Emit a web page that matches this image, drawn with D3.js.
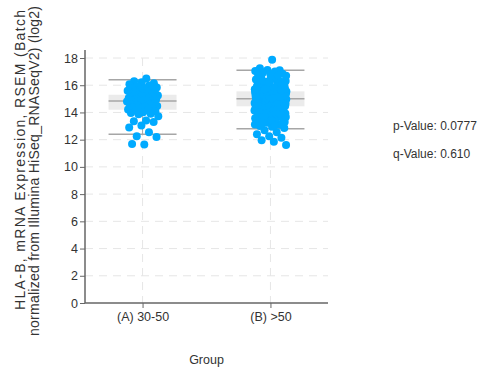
<!DOCTYPE html>
<html>
<head>
<meta charset="utf-8">
<script src="https://cdn.jsdelivr.net/npm/d3@7"></script>
<style>
  html, body { margin: 0; padding: 0; background: #fff; }
  svg { display: block; font-family: "Liberation Sans", Arial, sans-serif; }
</style>
</head>
<body>
<svg id="chart" width="502" height="371"></svg>
<script>
// Groups on the x axis
const groups = ["(A) 30-50", "(B) >50"];

// HLA-B expression (log2) per sample, group A
const valuesA = [
  16.5, 16.3, 16.15, 16.22, 16.08, 15.98, 15.9, 15.84, 15.8, 15.74, 15.7, 15.66,
  15.6, 15.55, 15.51, 15.46, 15.4, 15.36, 15.32, 15.28, 15.25, 15.21, 15.18, 15.14,
  15.1, 15.06, 15.02, 14.99, 14.95, 14.91, 14.88, 14.86, 14.83, 14.8, 14.76, 14.72,
  14.69, 14.65, 14.61, 14.57, 14.52, 14.47, 14.42, 14.37, 14.31, 14.27, 14.22, 14.19,
  14.14, 14.09, 14.02, 13.96, 13.9, 13.86, 13.72, 13.4, 13.35, 13.3, 13.05, 12.9,
  12.55, 12.25, 12.2, 11.65, 11.68
];

// HLA-B expression (log2) per sample, group B
const valuesB = [
  11.6, 11.85, 11.95, 12.15, 12.25, 12.4, 12.55, 12.7, 12.85, 12.95, 13.0, 13.1,
  13.24, 13.58, 14.12, 13.87, 14.39, 13.41, 14.03, 13.69, 14.27, 13.93, 14.18, 13.33,
  14.44, 13.76, 14.08, 13.51, 14.31, 13.98, 14.21, 13.64, 14.36, 13.82, 14.15, 13.47,
  14.41, 14.05, 13.72, 14.26, 13.91, 14.33, 13.29, 14.1, 13.85, 14.23, 13.62, 14.38,
  13.96, 14.17, 13.55, 14.29, 13.79, 14.42, 14.01, 13.67, 14.35, 13.89, 14.13, 13.44,
  14.24, 14.07, 13.74, 14.4, 13.37, 14.19, 13.95, 14.3, 13.12, 13.05, 13.18, 14.34,
  14.52, 14.87, 14.63, 14.95, 14.48, 14.71, 14.83, 14.57, 14.99, 14.66, 14.79, 14.46,
  14.91, 14.6, 14.74, 14.85, 14.54, 14.97, 14.68, 14.81, 14.5, 14.89, 14.62, 14.76,
  14.93, 14.56, 14.7, 14.84, 14.47, 14.98, 14.65, 14.78, 14.59, 14.9, 14.72, 14.86,
  14.53, 14.96, 14.64, 14.8, 14.49, 14.92, 14.67, 14.75, 14.88, 14.55, 14.73, 14.94,
  14.61, 14.82, 14.51, 14.69, 14.77, 14.58, 14.95, 14.86, 14.66, 14.74, 14.9, 14.57,
  15.03, 15.41, 15.17, 15.52, 15.08, 15.29, 15.46, 15.12, 15.35, 15.01, 15.49, 15.22,
  15.38, 15.06, 15.27, 15.54, 15.14, 15.43, 15.19, 15.32, 15.04, 15.47, 15.24, 15.39,
  15.1, 15.51, 15.16, 15.3, 15.44, 15.07, 15.36, 15.21, 15.5, 15.13, 15.26, 15.42,
  15.02, 15.34, 15.18, 15.48, 15.09, 15.31, 15.45, 15.23, 15.37, 15.05, 15.53, 15.15,
  15.28, 15.4, 15.11, 15.33, 15.2, 15.46, 15.25, 15.07, 15.38, 15.14, 15.5, 15.29,
  15.58, 16.12, 15.79, 16.45, 15.67, 16.03, 15.91, 16.31, 15.62, 16.58, 15.84, 16.2,
  15.73, 16.39, 15.96, 16.08, 15.6, 16.66, 15.87, 16.25, 15.7, 16.5, 15.99, 16.15,
  15.65, 16.35, 15.81, 16.05, 15.76, 16.62, 15.93, 16.28, 15.57, 16.42, 15.88, 16.1,
  15.68, 16.54, 16.0, 16.22, 15.75, 16.69, 15.83, 16.33, 15.63, 16.18, 15.95, 16.47,
  15.71, 16.02,
  17.87, 17.25, 17.1, 17.12, 17.05, 17.0, 16.92, 16.85, 16.8, 16.76, 16.72
];

// Box summary per group
const whiskerLow  = [12.4, 12.8];
const quartile1   = [14.2, 14.45];
const medians     = [14.85, 15.0];
const quartile3   = [15.3, 15.55];
const whiskerHigh = [16.4, 17.1];

const yTicks = [0, 2, 4, 6, 8, 10, 12, 14, 16, 18];
const yTitleLines = ["HLA-B, mRNA Expression, RSEM (Batch", "normalized from Illumina HiSeq_RNASeqV2) (log2)"];
const xTitle = "Group";
const statLabels = ["p-Value: 0.0777", "q-Value: 0.610"];

const svg = d3.select("#chart");

const x = d3.scalePoint().domain(groups).range([85, 328]).padding(0.45);
const y = d3.scaleLinear().domain([0, 18]).range([303, 58]);

const boxHalf = 34;
const jitterHalf = 16;

// dashed grid
const grid = svg.append("g");
grid.selectAll("line.h").data(yTicks.filter(d => d > 0)).join("line")
  .attr("x1", 85).attr("x2", 328)
  .attr("y1", d => y(d)).attr("y2", d => y(d))
  .attr("stroke", "#e6e6e6").attr("stroke-width", 1).attr("stroke-dasharray", "8,6");
grid.selectAll("line.v").data(groups).join("line")
  .attr("x1", d => x(d)).attr("x2", d => x(d))
  .attr("y1", 58).attr("y2", 303)
  .attr("stroke", "#e6e6e6").attr("stroke-width", 1).attr("stroke-dasharray", "8,6");

// boxes
const boxes = groups.map((g, i) => ({
  g, lo: whiskerLow[i], q1: quartile1[i], med: medians[i], q3: quartile3[i], hi: whiskerHigh[i]
}));
const bx = svg.append("g");
bx.selectAll("rect").data(boxes).join("rect")
  .attr("x", d => x(d.g) - boxHalf).attr("width", boxHalf * 2)
  .attr("y", d => y(d.q3)).attr("height", d => y(d.q1) - y(d.q3))
  .attr("fill", "#ebebeb");
bx.selectAll("line.stem").data(boxes).join("line")
  .attr("x1", d => x(d.g)).attr("x2", d => x(d.g))
  .attr("y1", d => y(d.lo)).attr("y2", d => y(d.hi))
  .attr("stroke", "#aaa").attr("stroke-width", 1);
["lo", "med", "hi"].forEach(k => {
  bx.selectAll("line." + k).data(boxes).join("line")
    .attr("x1", d => x(d.g) - boxHalf).attr("x2", d => x(d.g) + boxHalf)
    .attr("y1", d => y(d[k])).attr("y2", d => y(d[k]))
    .attr("stroke", "#a6a6a6").attr("stroke-width", 1.5);
});

// sample points, spread horizontally with a golden-ratio sequence
const points = [];
[valuesA, valuesB].forEach((vals, gi) => {
  vals.forEach((v, i) => {
    const u = ((i + 1) * 0.6180339887 + gi * 0.37) % 1;
    points.push({ g: groups[gi], v, dx: (u - 0.5) * 2 * jitterHalf });
  });
});
svg.append("g").selectAll("circle").data(points).join("circle")
  .attr("cx", d => x(d.g) + d.dx)
  .attr("cy", d => y(d.v))
  .attr("r", 4)
  .attr("fill", "#00aaff");

// axes
const yAxis = svg.append("g").attr("transform", "translate(85,0)")
  .call(d3.axisLeft(y).tickValues(yTicks).tickSize(5).tickSizeOuter(0).tickPadding(2));
const xAxis = svg.append("g").attr("transform", "translate(0,303)")
  .call(d3.axisBottom(x).tickSize(5).tickSizeOuter(0).tickPadding(4));
[yAxis, xAxis].forEach(a => {
  a.select(".domain").attr("stroke", "#666").attr("stroke-width", 1.5);
  a.selectAll(".tick line").attr("stroke", "#666");
  a.selectAll(".tick text").attr("fill", "#333").style("font-size", "12.5px")
    .style("font-family", "'Liberation Sans', Arial, sans-serif");
});
yAxis.select(".domain").attr("d", "M0,303V50");
xAxis.select(".domain").attr("d", "M85,0H328");

// axis titles
const yTitleX = [25, 39];
const yTitleY = [160, 171];
const yTitleLen = [300, 330];
yTitleLines.forEach((t, i) => {
  svg.append("text")
    .attr("transform", `translate(${yTitleX[i]},${yTitleY[i]}) rotate(-90)`)
    .attr("text-anchor", "middle")
    .attr("textLength", yTitleLen[i])
    .attr("lengthAdjust", "spacing")
    .attr("fill", "#333")
    .style("font-size", "14px")
    .text(t);
});
svg.append("text")
  .attr("x", 206.5).attr("y", 364)
  .attr("text-anchor", "middle")
  .attr("fill", "#333")
  .style("font-size", "12.5px")
  .text(xTitle);

// test statistics
svg.selectAll("text.stat").data(statLabels).join("text")
  .attr("class", "stat")
  .attr("x", 393).attr("y", (d, i) => 130 + i * 28)
  .attr("fill", "#333")
  .style("font-size", "12px")
  .text(d => d);
</script>
</body>
</html>
